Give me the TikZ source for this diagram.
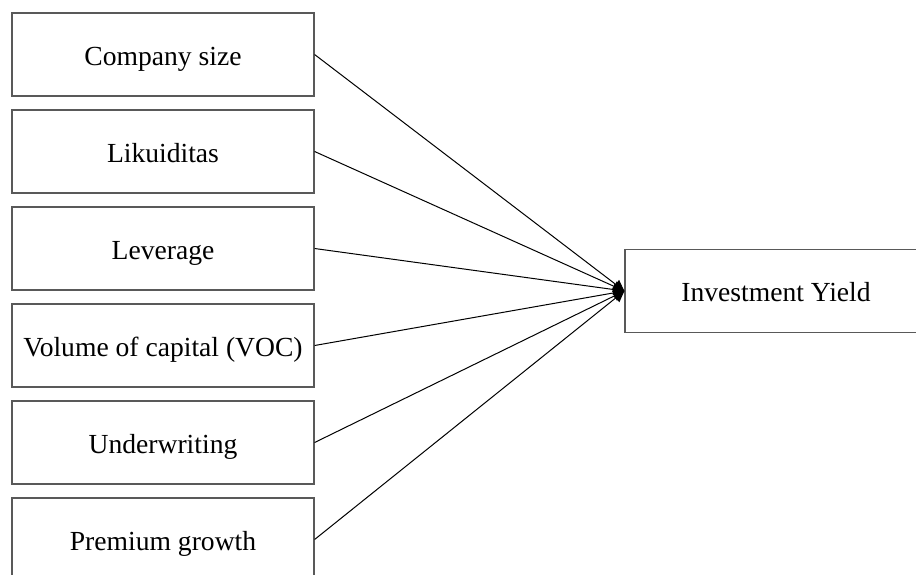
\documentclass[tikz,border=0pt]{standalone}
\usepackage{fontspec}
\setmainfont{Liberation Serif}
\usetikzlibrary{positioning,arrows.meta}

\tikzset{
  factor/.style={draw=black!65, line width=0.6pt, minimum width=151pt,
    minimum height=41.5pt, inner sep=0pt, text height=10.5pt, text depth=0pt,
    font=\fontsize{13.8}{16}\selectfont},
  link/.style={-{Triangle[length=5.5pt,width=5.5pt]}, line width=0.5pt},
}

\begin{document}
\begin{tikzpicture}[node distance=6.4pt]
  \useasboundingbox (0,0) rectangle (458pt,-287pt);
  \clip (0,0) rectangle (458pt,-287pt);

  % independent variables
  \node[factor] (size) at (81.5pt,-27.25pt) {Company size};
  \node[factor, below=of size] (liq) {Likuiditas};
  \node[factor, below=of liq] (lev) {Leverage};
  \node[factor, below=of lev] (voc) {Volume of capital (VOC)};
  \node[factor, below=of voc] (uw) {Underwriting};
  \node[factor, below=of uw] (prem) {Premium growth};

  % dependent variable
  \node[factor] (yield) at (388pt,-145.5pt) {Investment Yield};

  \foreach \f in {size,liq,lev,voc,uw,prem}
    \draw[link] (\f.east) -- (yield.west);
\end{tikzpicture}
\end{document}
